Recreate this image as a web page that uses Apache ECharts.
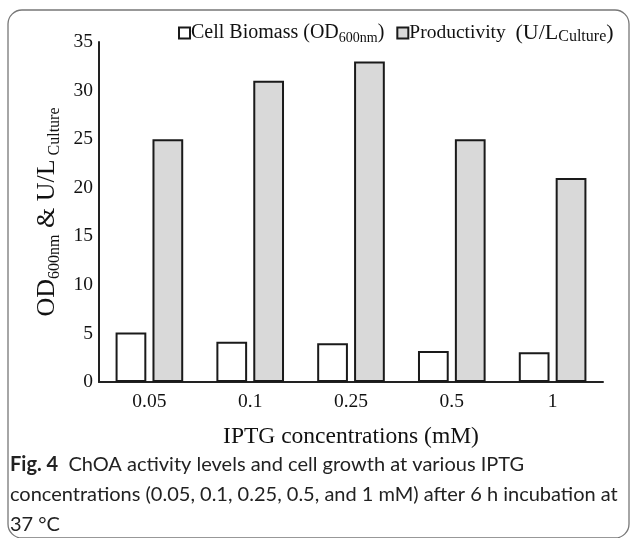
<!DOCTYPE html>
<html>
<head>
<meta charset="utf-8">
<script src="https://cdn.jsdelivr.net/npm/echarts@6/dist/echarts.min.js"></script>
<style>
  html, body { margin: 0; padding: 0; background: #fff; }
  #main { width: 630px; height: 538px; }
</style>
</head>
<body>
<div id="main"></div>
<script>
// data
var categories = ['0.05', '0.1', '0.25', '0.5', '1'];
var biomass = [5.1, 4.15, 4.0, 3.2, 3.05];
var productivity = [25, 31, 33, 25, 21];
var yTicks = { min: 0, max: 35, interval: 5 };

var myChart = echarts.init(document.getElementById('main'));

var serif = '"Liberation Serif", "DejaVu Serif", serif';
var sans = 'Lato, "Open Sans", sans-serif';

var richText = {
  a: { fontFamily: serif, fontSize: 20, color: '#111', lineHeight: 24 },
  p: { fontFamily: serif, fontSize: 19.5, color: '#111', lineHeight: 24 },
  b: { fontFamily: serif, fontSize: 22, color: '#111', lineHeight: 24 },
  s: { fontFamily: serif, fontSize: 14, color: '#111', lineHeight: 12, verticalAlign: 'bottom' },
  t: { fontFamily: serif, fontSize: 16, color: '#111', lineHeight: 12, verticalAlign: 'bottom' }
};

var option = {
  animation: false,
  backgroundColor: '#fff',
  legend: {
    top: 22,
    left: 178,
    padding: 0,
    itemWidth: 11,
    itemHeight: 11,
    itemGap: 12,
    icon: 'rect',
    data: ['Cell Biomass (OD600nm)', 'Productivity (U/LCulture)'],
    formatter: function (name) {
      if (name.indexOf('Cell') === 0) {
        return '{a|Cell Biomass (OD}{s|600nm}{a|)}';
      }
      return '{p|Productivity  }{b|(U/L}{t|Culture}{b|)}';
    },
    textStyle: { rich: richText, padding: [0, 0, 0, -4] }
  },
  grid: { left: 99, right: 27, top: 42, bottom: 156 },
  xAxis: {
    type: 'category',
    data: categories,
    name: 'IPTG concentrations (mM)',
    nameLocation: 'middle',
    nameGap: 43,
    nameTextStyle: { fontFamily: serif, fontSize: 23.5, color: '#111' },
    axisLine: { lineStyle: { color: '#222', width: 2 } },
    axisTick: { show: false },
    axisLabel: { fontFamily: serif, fontSize: 19.5, color: '#111', margin: 10 }
  },
  yAxis: {
    type: 'value',
    min: yTicks.min,
    max: yTicks.max,
    interval: yTicks.interval,
    name: '{a|OD}{s|600nm}{a| & U/L}{s| Culture}',
    nameLocation: 'middle',
    nameGap: 36,
    nameTextStyle: {
      rich: {
        a: { fontFamily: serif, fontSize: 26, color: '#111', lineHeight: 30 },
        s: { fontFamily: serif, fontSize: 16, color: '#111', lineHeight: 13, verticalAlign: 'bottom' }
      }
    },
    axisLine: { show: true, lineStyle: { color: '#222', width: 2 } },
    axisTick: { show: false },
    splitLine: { show: false },
    axisLabel: { fontFamily: serif, fontSize: 19.5, color: '#111', margin: 6 }
  },
  series: [
    {
      name: 'Cell Biomass (OD600nm)',
      type: 'bar',
      barWidth: '30.5%',
      barGap: '20%',
      itemStyle: { color: '#ffffff', borderColor: '#1a1a1a', borderWidth: 2 },
      data: biomass
    },
    {
      name: 'Productivity (U/LCulture)',
      type: 'bar',
      barWidth: '30.5%',
      itemStyle: { color: '#d9d9d9', borderColor: '#1a1a1a', borderWidth: 2 },
      data: productivity
    }
  ],
  graphic: [
    {
      type: 'rect',
      shape: { x: 8, y: 10, width: 621, height: 528, r: 14 },
      style: { fill: 'none', stroke: '#777', lineWidth: 1.3 },
      silent: true
    },
    {
      type: 'text',
      left: 10,
      top: 455,
      style: {
        text: '{b|Fig. 4}{t|  ChOA activity levels and cell growth at various IPTG}\n{t|concentrations (0.05, 0.1, 0.25, 0.5, and 1 mM) after 6 h incubation at}\n{t|37 °C}',
        rich: {
          b: { fontFamily: sans, fontSize: 20, fontWeight: 'bold', fill: '#222', lineHeight: 30 },
          t: { fontFamily: sans, fontSize: 20, fill: '#222', lineHeight: 30 }
        }
      }
    }
  ]
};

myChart.setOption(option);
</script>
</body>
</html>
